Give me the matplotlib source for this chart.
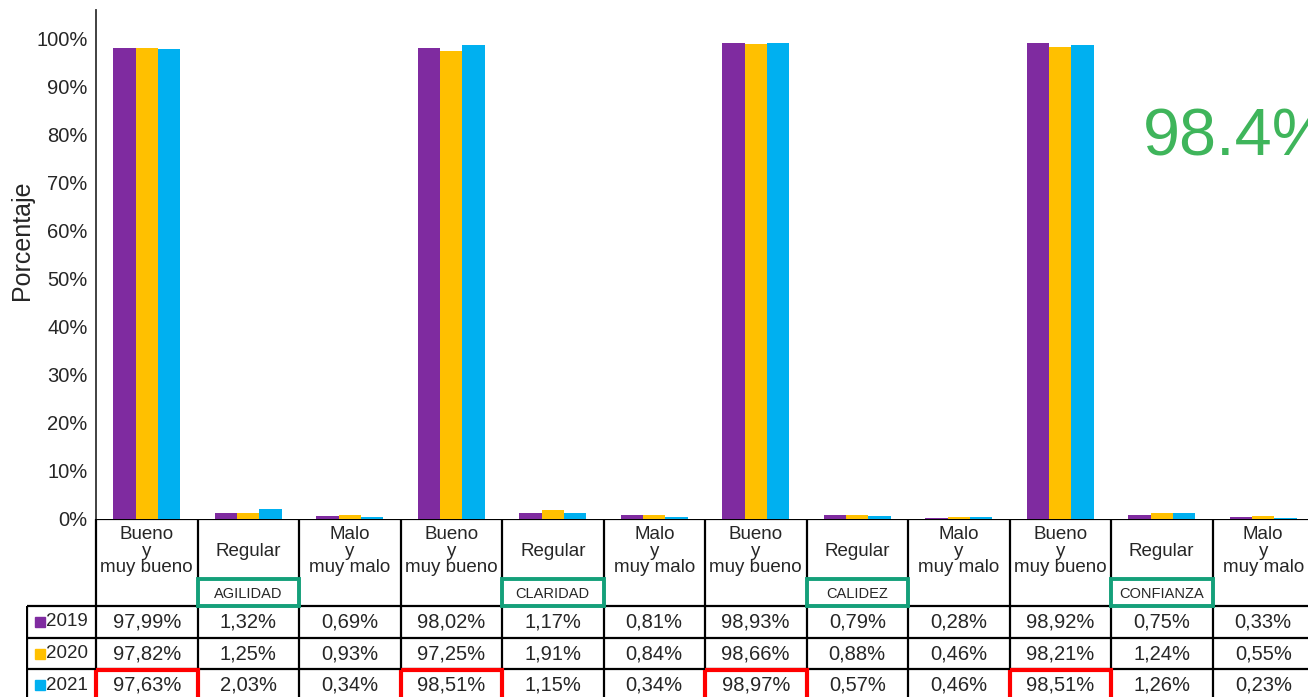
import matplotlib.pyplot as plt
from matplotlib.patches import Rectangle
import numpy as np

plt.rcParams['font.family'] = ['Liberation Sans', 'DejaVu Sans']

# data
categories = ['Bueno\ny\nmuy bueno', 'Regular', 'Malo\ny\nmuy malo'] * 4
attributes = ['AGILIDAD', 'CLARIDAD', 'CALIDEZ', 'CONFIANZA']
years = ['2019', '2020', '2021']
v2019 = [97.99, 1.32, 0.69, 98.02, 1.17, 0.81, 98.93, 0.79, 0.28, 98.92, 0.75, 0.33]
v2020 = [97.82, 1.25, 0.93, 97.25, 1.91, 0.84, 98.66, 0.88, 0.46, 98.21, 1.24, 0.55]
v2021 = [97.63, 2.03, 0.34, 98.51, 1.15, 0.34, 98.97, 0.57, 0.46, 98.51, 1.26, 0.23]
highlight = '98.4%'

series = [v2019, v2020, v2021]
colors = ['#7F2BA0', '#FFC000', '#00B0F0']
txtc = '#262626'

W, H = 1308, 697
fig = plt.figure(figsize=(W / 100, H / 100), dpi=100)
fig.patch.set_facecolor('white')

cw = 101.5          # pixel width of one category
x0 = 96             # pixel x of the y axis
y0 = 519            # pixel y of 0%
n = len(categories)

ax = fig.add_axes([x0 / W, (H - y0) / H, n * cw / W, (y0 - 10) / H])
ax.set_xlim(-0.5, n - 0.5)
ax.set_ylim(0, (y0 - 10) / 48.1 * 10)
x = np.arange(n)
bw = 0.22
for k, (vals, c) in enumerate(zip(series, colors)):
    ax.bar(x + (k - 1) * bw, vals, bw, color=c, zorder=2)

ax.set_yticks(range(0, 101, 10))
ax.set_yticklabels([f'{t}%' for t in range(0, 101, 10)], fontsize=14.5, color=txtc)
ax.tick_params(axis='y', length=0, pad=6)
ax.set_xticks([])
for s in ['top', 'right', 'bottom']:
    ax.spines[s].set_visible(False)
ax.spines['left'].set_color('#333333')
ax.spines['left'].set_linewidth(1.3)
ax.set_facecolor('none')
fig.text(22 / W, 1 - 240 / H, 'Porcentaje', rotation=90, fontsize=18,
         color=txtc, ha='center', va='center')

# big figure on the right, cut by the edge as in the source
fig.text(1143 / W, 1 - 139 / H, highlight, fontsize=48, color='#3FB55B',
         ha='left', va='center')

# data table under the bars
def tx(px):
    return -0.5 + (px - x0) / cw

ybot = 712
t = fig.add_axes([26 / W, (H - ybot) / H, (n * cw + 70) / W, (ybot - y0) / H])
t.set_xlim(tx(26), n - 0.5)
t.set_ylim(ybot, y0)
t.axis('off')

rows = [606, 638, 669]
t.hlines(y0, -0.5, n - 0.5, color='black', lw=1.6)
t.vlines(np.arange(n + 1) - 0.5, y0, ybot, color='black', lw=1.6)
t.vlines(tx(27), rows[0], ybot, color='black', lw=1.6)
t.hlines(rows, tx(27), n - 0.5, color='black', lw=1.6)

for i, cat in enumerate(categories):
    t.text(i, 551, cat, ha='center', va='center', fontsize=13.5, color=txtc,
           linespacing=0.95)

for j, name in enumerate(attributes):
    i = 3 * j + 1
    t.add_patch(Rectangle((i - 0.5, 579), 1, 27, fill=False,
                          edgecolor='#14A07A', lw=2.8, zorder=3))
    t.text(i, 594, name, ha='center', va='center', fontsize=10.5, color=txtc)

row_mid = [622, 654, 685]
for r, (yr, vals, c) in enumerate(zip(years, series, colors)):
    ym = row_mid[r]
    t.plot(tx(40), ym, marker='s', ms=6.5, color=c, ls='none')
    t.text(tx(46), ym, yr, ha='left', va='center', fontsize=13.5, color=txtc)
    for i, v in enumerate(vals):
        t.text(i, ym, f'{v:.2f}%'.replace('.', ','), ha='center', va='center',
               fontsize=14.5, color=txtc)

for i in range(0, n, 3):
    t.add_patch(Rectangle((i - 0.5, 670), 1, 40, fill=False,
                          edgecolor='#FF0000', lw=3, zorder=3))

fig.savefig('out.png', dpi=100)
